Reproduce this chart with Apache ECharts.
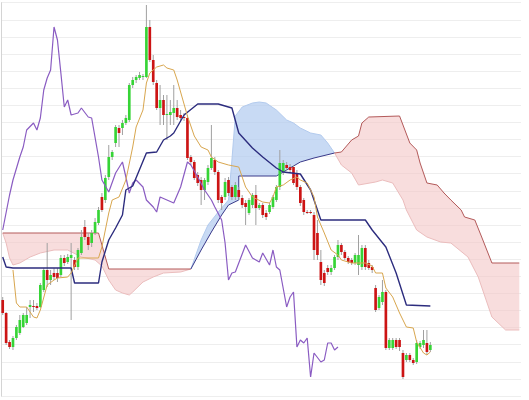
<!DOCTYPE html>
<html>
<head>
<meta charset="utf-8">
<script src="https://cdn.jsdelivr.net/npm/echarts@6/dist/echarts.min.js"></script>
<style>
  html, body { margin: 0; padding: 0; background: #fff; }
  #chart { width: 529px; height: 400px; }
</style>
</head>
<body>
<div id="chart"></div>
<script>
// 126 sessions of candles + 26 periods the cloud is projected ahead
const periodCount = 152
const categories = Array.from({ length: periodCount }, (_, i) => String(i + 1))

// [open, close, low, high]
const candles = [
  [96, 83, 81, 99], [83, 53, 51, 84], [54, 49, 47, 56], [49, 58, 46, 60], [58, 69, 56, 71],
  [63, 76, 61, 81], [69, 81, 68, 83], [73, 81, 71, 89], [89, 91, 78, 96], [90, 89, 84, 96],
  [90, 88, 86, 93], [89, 111, 88, 113], [106, 126, 104, 128], [126, 116, 109, 153], [116, 121, 111, 126],
  [123, 119, 116, 128], [123, 118, 114, 128], [121, 138, 119, 141], [138, 133, 130, 141], [134, 139, 132, 142],
  [138, 141, 76, 153], [136, 129, 126, 139], [129, 146, 126, 148], [143, 159, 141, 166], [169, 159, 156, 176],
  [159, 151, 146, 163], [153, 163, 149, 166], [163, 174, 161, 178], [173, 186, 171, 189], [199, 186, 184, 203],
  [196, 218, 193, 221], [219, 239, 216, 251], [239, 244, 236, 246], [253, 269, 249, 271], [268, 263, 249, 271],
  [268, 273, 261, 276], [273, 278, 271, 281], [276, 311, 274, 313], [311, 316, 308, 319], [316, 319, 313, 321],
  [318, 321, 316, 324], [319, 320, 316, 322], [319, 369, 318, 391], [369, 336, 334, 376], [336, 314, 311, 341],
  [313, 288, 286, 316], [288, 296, 271, 311], [296, 281, 271, 301], [281, 282, 256, 301], [281, 284, 271, 296],
  [283, 288, 271, 311], [288, 279, 276, 296], [281, 278, 275, 286], [279, 278, 275, 283], [278, 238, 236, 281],
  [239, 234, 231, 241], [234, 218, 216, 236], [221, 213, 210, 224], [216, 206, 191, 219], [206, 216, 196, 218],
  [214, 228, 211, 231], [228, 238, 226, 271], [236, 224, 221, 239], [224, 196, 193, 226], [199, 193, 186, 201],
  [199, 214, 196, 218], [216, 203, 200, 219], [209, 199, 196, 211], [199, 211, 196, 214], [206, 199, 196, 209],
  [198, 191, 188, 201], [193, 189, 171, 196], [183, 196, 181, 198], [191, 201, 188, 203], [201, 188, 171, 211],
  [188, 191, 186, 193], [191, 181, 178, 193], [183, 179, 176, 186], [184, 191, 182, 193], [189, 199, 187, 201],
  [196, 209, 194, 211], [209, 233, 206, 246], [224, 233, 221, 236], [231, 228, 225, 234], [229, 226, 223, 232],
  [229, 213, 211, 231], [223, 209, 206, 226], [209, 193, 190, 211], [196, 184, 181, 198], [184, 183, 182, 186],
  [184, 183, 182, 186], [181, 146, 136, 184], [163, 141, 136, 176], [134, 116, 111, 146], [123, 113, 110, 126],
  [128, 124, 121, 131], [124, 128, 121, 131], [128, 139, 126, 141], [139, 151, 136, 156], [151, 144, 141, 153],
  [144, 138, 136, 146], [138, 134, 132, 140], [136, 133, 131, 138], [133, 141, 131, 143], [131, 141, 121, 161],
  [129, 148, 126, 151], [148, 129, 126, 151], [133, 128, 126, 136], [129, 126, 123, 131], [108, 86, 84, 111],
  [88, 99, 86, 101], [94, 104, 91, 116], [104, 48, 46, 106], [48, 56, 46, 58], [48, 56, 46, 58],
  [56, 49, 47, 58], [56, 49, 45, 58], [43, 19, 17, 46], [36, 41, 34, 43], [41, 36, 34, 43],
  [36, 33, 31, 38], [34, 53, 32, 56], [49, 53, 47, 55], [51, 56, 48, 66], [53, 44, 41, 66],
  [46, 51, 44, 54],
]

// [period, value] breakpoints
const tenkan = [
  [3, 126], [4, 93], [5, 89], [7, 89], [9, 79], [10, 78], [11, 86], [13, 111], [15, 116], [16, 118],
  [19, 119], [20, 123], [22, 138], [28, 138], [29, 149], [30, 166], [31, 183], [32, 196], [34, 199], [36, 216],
  [38, 249], [39, 269], [41, 286], [42, 313], [43, 323], [45, 329], [47, 331], [48, 328], [50, 326], [51, 316],
  [53, 292], [54, 280], [56, 260], [58, 249], [60, 246], [61, 239], [63, 234], [66, 231], [69, 229], [70, 219],
  [71, 209], [73, 199], [76, 194], [78, 193], [79, 199], [80, 209], [82, 211], [84, 216], [86, 219], [87, 216],
  [89, 213], [91, 199], [92, 179], [94, 163], [96, 146], [98, 141], [99, 136], [102, 133], [106, 133], [108, 130],
  [109, 123], [111, 123], [112, 108], [114, 99], [116, 83], [118, 69], [120, 68], [121, 54], [123, 43], [124, 41],
  [125, 44],
]

const kijun = [
  [0, 139], [1, 129], [3, 128], [20, 128], [21, 113], [28, 113], [29, 134], [31, 156], [33, 168], [35, 181],
  [36, 206], [38, 210], [42, 243], [45, 244], [47, 256], [49, 260], [50, 263], [53, 281], [57, 292], [63, 292],
  [67, 288], [69, 263], [73, 248], [76, 239], [80, 228], [82, 224], [87, 222], [90, 206], [93, 176], [106, 176],
  [108, 166], [112, 149], [115, 123], [118, 91], [125, 90],
]

const chikou = [
  [0, 166], [2, 201], [3, 216], [5, 239], [6, 249], [7, 266], [9, 273], [10, 266], [11, 278], [12, 306],
  [13, 318], [14, 326], [15, 369], [16, 356], [17, 323], [18, 289], [19, 296], [20, 281], [22, 283], [23, 288],
  [25, 279], [26, 278], [28, 239], [29, 216], [31, 204], [33, 223], [35, 234], [36, 219], [37, 203], [38, 213],
  [39, 216], [41, 209], [42, 196], [44, 189], [45, 184], [46, 199], [50, 193], [52, 209], [54, 234], [55, 231],
  [57, 219], [59, 206], [61, 196], [62, 189], [64, 176], [65, 153], [66, 116], [67, 123], [68, 124], [71, 151],
  [73, 138], [75, 134], [76, 143], [78, 131], [79, 146], [80, 129], [81, 126], [83, 89], [84, 99], [85, 104],
  [86, 49], [87, 56], [88, 53], [89, 58], [90, 19], [91, 43], [93, 34], [94, 36], [95, 53], [96, 53],
  [97, 46], [98, 49],
]

const spanA = [
  [0, 163], [1, 153], [2, 138], [3, 131], [5, 133], [8, 139], [11, 143], [15, 146], [19, 146], [23, 139],
  [27, 136], [29, 130], [31, 116], [33, 106], [35, 103], [37, 101], [38, 104], [41, 114], [44, 119], [47, 123],
  [52, 124], [55, 127], [58, 156], [60, 171], [63, 184], [66, 196], [67, 236], [68, 280], [70, 289], [73, 293],
  [75, 294], [77, 293], [80, 286], [83, 276], [85, 273], [87, 268], [90, 263], [93, 261], [95, 253], [97, 243],
  [99, 231], [102, 223], [104, 211], [109, 214], [111, 216], [114, 213], [117, 196], [118, 186], [121, 166], [124, 159],
  [128, 154], [131, 153], [136, 139], [139, 119], [143, 79], [147, 66], [151, 66],
]

const spanB = [
  [0, 163], [28, 163], [30, 139], [31, 127], [55, 127], [58, 146], [61, 164], [64, 181], [66, 191], [69, 196],
  [69, 220], [80, 220], [84, 228], [87, 234], [91, 238], [97, 243], [99, 244], [102, 256], [104, 260], [105, 273],
  [107, 279], [116, 280], [117, 271], [119, 253], [121, 246], [122, 233], [124, 213], [127, 211], [129, 203], [131, 196],
  [134, 186], [135, 179], [138, 176], [140, 159], [143, 133], [151, 133],
]

// where the two spans cross: [from, to, kind]
const cloudParts = [[0, 55, 'bear'], [55, 97, 'bull'], [97, 151, 'bear']]

const chart = echarts.init(document.getElementById('chart'))

function cloudItem(params, api) {
  const [from, to, kind] = cloudParts[params.dataIndex]
  const a = spanA.filter((p) => p[0] >= from && p[0] <= to).map((p) => api.coord(p))
  const b = spanB.filter((p) => p[0] >= from && p[0] <= to).map((p) => api.coord(p))
  const bull = kind === 'bull'
  return {
    type: 'group',
    children: [
      {
        type: 'polygon',
        shape: { points: a.concat(b.slice().reverse()) },
        style: { fill: bull ? 'rgba(176,202,240,0.7)' : 'rgba(244,198,198,0.6)' },
      },
      {
        type: 'polyline',
        shape: { points: a },
        style: { fill: null, stroke: bull ? '#b3cbee' : '#ebbdbd', lineWidth: 1 },
      },
      {
        type: 'polyline',
        shape: { points: b },
        style: { fill: null, stroke: bull ? '#3a3a8a' : '#b35a5a', lineWidth: 1 },
      },
    ],
  }
}

function candleItem(params, api) {
  const i = api.value(0)
  const open = api.value(1)
  const close = api.value(2)
  const top = api.coord([i, api.value(4)])
  const bottom = api.coord([i, api.value(3)])
  const po = api.coord([i, open])
  const pc = api.coord([i, close])
  const w = api.size([1, 0])[0] * 0.78
  return {
    type: 'group',
    children: [
      {
        type: 'line',
        shape: { x1: top[0], y1: top[1], x2: bottom[0], y2: bottom[1] },
        style: { stroke: '#a0a0a0', lineWidth: 1 },
      },
      {
        type: 'rect',
        shape: {
          x: po[0] - w / 2,
          y: Math.min(po[1], pc[1]),
          width: w,
          height: Math.max(1, Math.abs(po[1] - pc[1])),
        },
        style: { fill: close >= open ? '#36d436' : '#cc1414' },
      },
    ],
  }
}

function lineSeries(name, data, color, width) {
  return {
    name,
    type: 'line',
    data,
    symbol: 'none',
    lineStyle: { color, width },
    z: 4,
  }
}

chart.setOption({
  animation: false,
  backgroundColor: '#fff',
  grid: { left: 1, right: 8, top: 2.7, bottom: 4 },
  xAxis: {
    type: 'category',
    data: categories,
    boundaryGap: true,
    axisLine: { show: false },
    axisTick: { show: false },
    axisLabel: { show: false },
    splitLine: { show: false },
  },
  yAxis: {
    type: 'value',
    min: 0,
    max: 393.3,
    interval: 17.1,
    axisLine: { show: true, lineStyle: { color: '#d4d4d4' } },
    axisTick: { show: false },
    axisLabel: { show: false },
    splitLine: { lineStyle: { color: '#eeeeee' } },
  },
  series: [
    {
      name: 'cloud',
      type: 'custom',
      renderItem: cloudItem,
      data: cloudParts.map((p) => [p[0], p[1]]),
      z: 1,
    },
    {
      name: 'candles',
      type: 'custom',
      renderItem: candleItem,
      data: candles.map((c, i) => [i, ...c]),
      z: 3,
    },
    lineSeries('chikou', chikou, '#8a5cc2', 1.2),
    lineSeries('kijun', kijun, '#2c2c7e', 1.4),
    lineSeries('tenkan', tenkan, '#d8a64e', 1),
  ],
})
</script>
</body>
</html>
